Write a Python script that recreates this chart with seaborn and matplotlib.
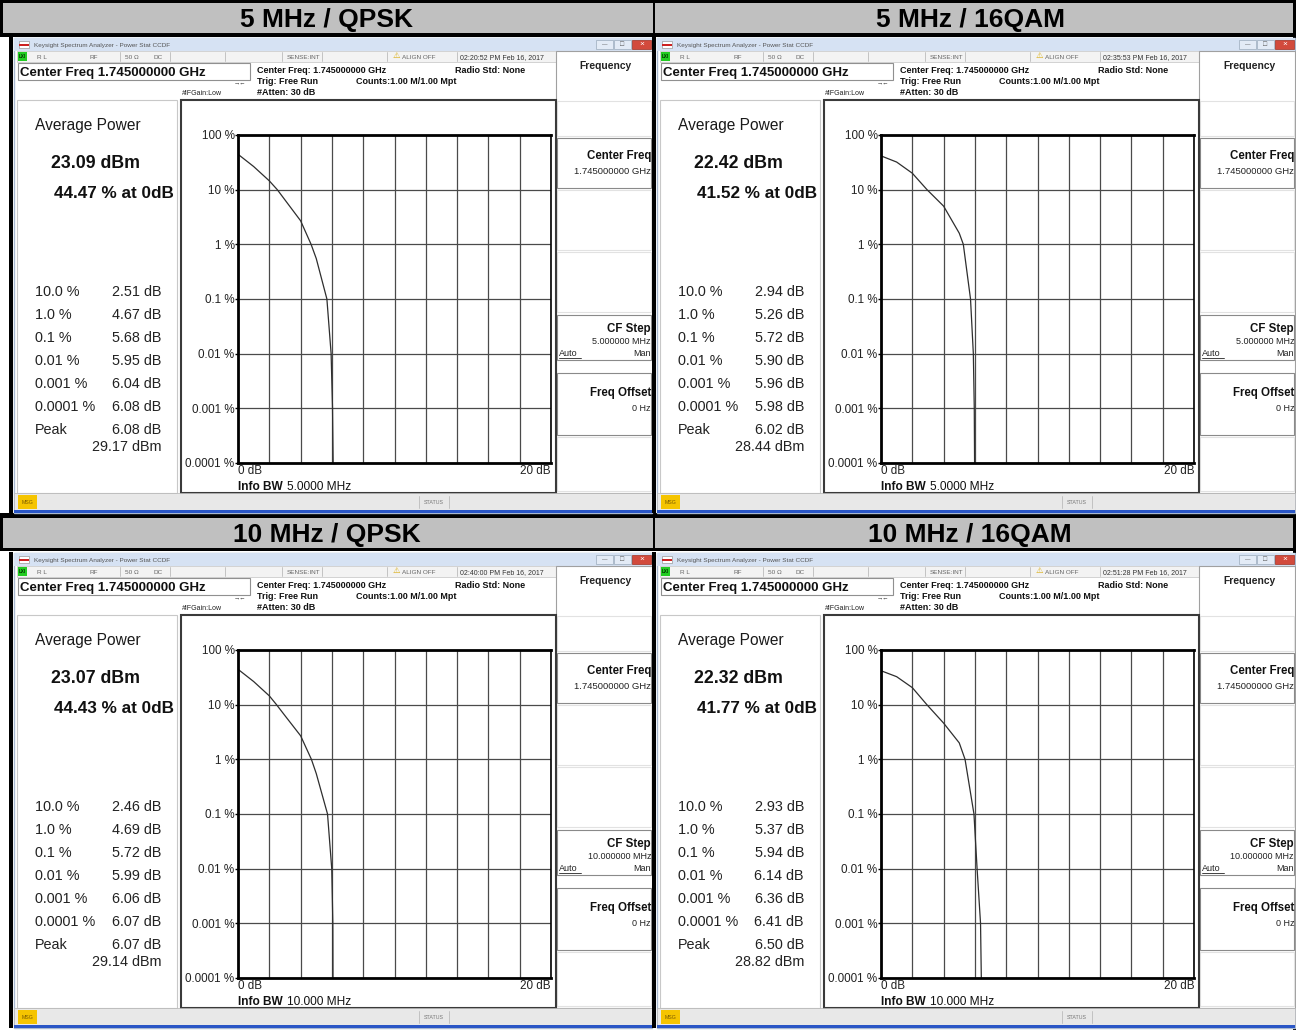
import matplotlib
matplotlib.use('Agg')
import matplotlib.pyplot as plt
from matplotlib.patches import Rectangle
from matplotlib.ticker import NullLocator
import numpy as np
import pandas as pd
import seaborn as sns

# CCDF readouts of the four captures
titles = ['5 MHz / QPSK', '5 MHz / 16QAM', '10 MHz / QPSK', '10 MHz / 16QAM']
avg_dbm = [23.09, 22.42, 23.07, 22.32]
pct_at_0db = [44.47, 41.52, 44.43, 41.77]
ccdf_levels = [10.0, 1.0, 0.1, 0.01, 0.001, 0.0001]
level_labels = ['10.0 %', '1.0 %', '0.1 %', '0.01 %', '0.001 %', '0.0001 %']
ccdf_db = [
    [2.51, 4.67, 5.68, 5.95, 6.04, 6.08],
    [2.94, 5.26, 5.72, 5.90, 5.96, 5.98],
    [2.46, 4.69, 5.72, 5.99, 6.06, 6.07],
    [2.93, 5.37, 5.94, 6.14, 6.36, 6.41],
]
peak_db = [6.08, 6.02, 6.07, 6.50]
peak_dbm = [29.17, 28.44, 29.14, 28.82]

# trace at grid lines (dB, percent)
trace_db = [
    [1, 2, 3, 4, 5],
    [1, 2, 4, 5],
    [1, 2, 3, 4, 5],
    [1, 2, 4, 5],
]
trace_pct = [
    [26.5, 14.5, 6.5, 2.7, 0.55],
    [32.0, 20.0, 5.0, 1.6],
    [26.5, 14.5, 6.3, 2.7, 0.55],
    [32.5, 20.5, 4.6, 2.0],
]

timestamps = ['02:20:52 PM Feb 16, 2017', '02:35:53 PM Feb 16, 2017',
              '02:40:00 PM Feb 16, 2017', '02:51:28 PM Feb 16, 2017']
info_bw = ['5.0000 MHz', '5.0000 MHz', '10.000 MHz', '10.000 MHz']
cf_step = ['5.000000 MHz', '5.000000 MHz', '10.000000 MHz', '10.000000 MHz']
y_ticks = [100, 10, 1, 0.1, 0.01, 0.001, 0.0001]
y_tick_labels = ['100 %', '10 %', '1 %', '0.1 %', '0.01 %', '0.001 %', '0.0001 %']

W, H = 1296, 1030
origins = [(0, 0), (643, 0), (0, 515), (643, 515)]

sns.set_style('white')
plt.rcParams['font.family'] = ['Liberation Sans', 'DejaVu Sans']

fig = plt.figure(figsize=(W / 100, H / 100), dpi=100)
bg = fig.add_axes([0, 0, 1, 1])
bg.set_xlim(0, W)
bg.set_ylim(H, 0)
bg.axis('off')


def rect(x, y, w, h, fc='none', ec='none', lw=0):
    bg.add_patch(Rectangle((x, y), w, h, facecolor=fc, edgecolor=ec, linewidth=lw))


def txt(x, y, s, size=8, **kw):
    # y is the visual middle of the capitals; draw on the baseline below it
    if 'va' not in kw:
        kw['va'] = 'baseline'
        y = y + 0.358 * size * 100 / 72
    kw.setdefault('color', '#111111')
    bg.text(x, y, s, fontsize=size, **kw)


# black bands behind the title bars
rect(0, 0, W, 37, fc='black')
rect(0, 513, W, 38, fc='black')
for (x0, y0) in [(3, 3), (655, 3)]:
    rect(x0, y0, 650 if x0 == 3 else 638, 30, fc='#c0c0c0')
    rect(x0, y0 + 515, 650 if x0 == 3 else 638, 30, fc='#c0c0c0')
rect(1293, 37, 3, H - 37, fc='black')


def draw_panel(i):
    ox, oy = origins[i]

    def X(v):
        return ox + v

    def Y(v):
        return oy + v

    txt(X(327), Y(18), titles[i], size=19, weight='bold', ha='center', color='black')

    # window
    rect(X(9), Y(37), 4, 476, fc='black')
    rect(X(14), Y(38), 638, 475, fc='white', ec='#a8b8d0', lw=1)
    rect(X(14), Y(38), 638, 13, fc='#d6e2f3')
    rect(X(19), Y(41), 10, 7, fc='white', ec='#999999', lw=0.5)
    rect(X(19), Y(44), 10, 2, fc='#cc2222')
    txt(X(34), Y(44.5), 'Keysight Spectrum Analyzer - Power Stat CCDF', size=4.6, color='#555555')
    rect(X(596), Y(40), 17, 9, fc='#e3ebf6', ec='#9aaabb', lw=0.5)
    rect(X(614), Y(40), 17, 9, fc='#e3ebf6', ec='#9aaabb', lw=0.5)
    rect(X(632), Y(40), 19, 9, fc='#d24a3c', ec='#a03020', lw=0.5)
    txt(X(604.5), Y(44.5), '—', size=4, ha='center', va='center', color='#555555')
    txt(X(622.5), Y(44.5), '□', size=5, ha='center', va='center', color='#555555')
    txt(X(641.5), Y(44.5), '×', size=6, ha='center', va='center', color='white')

    # status row
    rect(X(17), Y(51), 539, 11, fc='#f3f3f3', ec='#c4c4c4', lw=0.5)
    rect(X(18), Y(52), 9, 9, fc='#22cc22')
    txt(X(22.5), Y(56.5), 'LXI', size=3.3, ha='center', color='#003300', weight='bold')
    for sx in [120, 170, 225, 282, 322, 387, 457]:
        bg.plot([X(sx), X(sx)], [Y(52), Y(61)], color='#bbbbbb', lw=0.6)
    txt(X(37), Y(56.5), 'R L', size=4.6, color='#666666')
    txt(X(90), Y(56.5), 'RF', size=4.6, color='#666666')
    txt(X(125), Y(56.5), '50 Ω', size=4.6, color='#666666')
    txt(X(153), Y(56.5), 'DC', size=4.6, color='#666666')
    txt(X(287), Y(56.5), 'SENSE:INT', size=4.6, color='#666666')
    txt(X(393), Y(56.5), '⚠', size=6, va='center', color='#d8a800')
    txt(X(402), Y(56.5), 'ALIGN OFF', size=4.6, color='#666666')
    txt(X(460), Y(56.5), timestamps[i], size=5, color='#333333')

    # annotation row
    rect(X(18), Y(63), 232, 17, fc='white', ec='#909090', lw=0.8)
    txt(X(20), Y(71.5), 'Center Freq 1.745000000 GHz', size=9.5, weight='bold')
    txt(X(234), Y(83), '→←', size=4.5, va='center', color='#333333')
    txt(X(182), Y(92.5), '#IFGain:Low', size=5, color='#222222')
    txt(X(257), Y(69.5), 'Center Freq: 1.745000000 GHz', size=6.5, weight='bold')
    txt(X(257), Y(80.5), 'Trig: Free Run', size=6.5, weight='bold')
    txt(X(257), Y(91.5), '#Atten: 30 dB', size=6.5, weight='bold')
    txt(X(356), Y(80.5), 'Counts:1.00 M/1.00 Mpt', size=6.5, weight='bold')
    txt(X(455), Y(69.5), 'Radio Std: None', size=6.5, weight='bold')

    # soft keys
    rect(X(556), Y(51), 96, 442, fc='white', ec='#a0a0a0', lw=0.8)
    txt(X(606), Y(65.5), 'Frequency', size=7.4, ha='center', weight='bold', color='#222222')
    for (k0, k1, strong) in [(101, 136, False), (138, 188, True), (190, 250, False),
                             (252, 312, False), (315, 360, True), (373, 435, True),
                             (437, 491, False)]:
        rect(X(557), Y(k0), 94, k1 - k0, fc='white',
             ec='#8a8a8a' if strong else '#e2e2e2', lw=0.8)
    txt(X(651), Y(154.5), 'Center Freq', size=8.3, ha='right', weight='bold')
    txt(X(651), Y(170.5), '1.745000000 GHz', size=6.8, ha='right', color='#222222')
    txt(X(651), Y(327.5), 'CF Step', size=8.3, ha='right', weight='bold')
    txt(X(651), Y(340.5), cf_step[i], size=6.5, ha='right', color='#222222')
    txt(X(559), Y(352.5), 'Auto', size=6.5, color='#222222')
    bg.plot([X(559), X(581)], [Y(357.5), Y(357.5)], color='#222222', lw=0.6)
    txt(X(651), Y(352.5), 'Man', size=6.5, ha='right', color='#222222')
    txt(X(651), Y(391.5), 'Freq Offset', size=8.3, ha='right', weight='bold')
    txt(X(651), Y(407.5), '0 Hz', size=6.5, ha='right', color='#222222')

    # left result table
    rect(X(17), Y(100), 160, 393, fc='white', ec='#c8c8c8', lw=0.8)
    txt(X(35), Y(124.5), 'Average Power', size=11.2, color='#1a1a1a')
    txt(X(51), Y(161.5), f'{avg_dbm[i]:.2f} dBm', size=12.8, weight='bold')
    txt(X(54), Y(191.5), f'{pct_at_0db[i]:.2f} % at 0dB', size=12.3, weight='bold')
    for r, (lab, val) in enumerate(zip(level_labels, ccdf_db[i])):
        ry = Y(290.5 + 23 * r)
        txt(X(35), ry, lab, size=10.4, color='#222222')
        txt(X(161), ry, f'{val:.2f} dB', size=10.4, ha='right', color='#222222')
    txt(X(35), Y(428.5), 'Peak', size=10.4, color='#222222')
    txt(X(161), Y(428.5), f'{peak_db[i]:.2f} dB', size=10.4, ha='right', color='#222222')
    txt(X(161), Y(445.5), f'{peak_dbm[i]:.2f} dBm', size=10.4, ha='right', color='#222222')

    # plot container
    rect(X(181), Y(100), 375, 393, fc='white', ec='#3a3a3a', lw=1.5)
    txt(X(238), Y(485.5), 'Info BW', size=8.6, weight='bold')
    txt(X(287), Y(485.5), info_bw[i], size=8.6)

    # status bar
    rect(X(14), Y(493), 638, 17, fc='#e8e8e8', ec='#b4b4b4', lw=0.5)
    rect(X(18), Y(495), 19, 14, fc='#f5c400')
    txt(X(27.5), Y(502), 'MSG', size=3.8, ha='center', color='#7a5a00')
    for sx in [419, 449]:
        bg.plot([X(sx), X(sx)], [Y(496), Y(508)], color='#bbbbbb', lw=0.6)
    txt(X(434), Y(502), 'STATUS', size=3.8, ha='center', color='#777777')
    rect(X(14), Y(510), 638, 3, fc='#2a56c6')

    # CCDF plot
    x0, x1, y0, y1 = X(238), X(551), Y(135), Y(463)
    ax = fig.add_axes([x0 / W, 1 - y1 / H, (x1 - x0) / W, (y1 - y0) / H])
    df = pd.DataFrame({'dB': [0.0] + trace_db[i] + ccdf_db[i],
                       'pct': [pct_at_0db[i]] + trace_pct[i] + ccdf_levels})
    df = df.sort_values('dB')
    sns.lineplot(data=df, x='dB', y='pct', ax=ax, sort=False, estimator=None,
                 color='#2e2e2e', lw=0.9)
    ax.set_yscale('log')
    ax.set_xlim(0, 20)
    ax.set_ylim(1e-4, 100)
    ax.set_yticks(y_ticks)
    ax.set_yticklabels(y_tick_labels, fontsize=8.4, color='#222222')
    ax.yaxis.set_minor_locator(NullLocator())
    ax.set_xticks(np.arange(0, 21, 2))
    xlabs = [''] * 11
    xlabs[0], xlabs[-1] = '0 dB', '20 dB'
    ax.set_xticklabels(xlabs, fontsize=8.4, color='#222222')
    ticklabels = ax.get_xticklabels()
    ticklabels[0].set_ha('left')
    ticklabels[-1].set_ha('right')
    ax.tick_params(axis='x', length=0, pad=1.5)
    ax.tick_params(axis='y', length=2.2, width=1, color='black', pad=0.3, left=True)
    ax.grid(True, color='#4a4a4a', lw=0.9)
    ax.set_xlabel('')
    ax.set_ylabel('')
    for side, sp in ax.spines.items():
        sp.set_visible(True)
        sp.set_color('black')
        sp.set_linewidth(2.0 if side != 'right' else 1.2)


for i in range(4):
    draw_panel(i)

fig.savefig('out.png', dpi=100)
